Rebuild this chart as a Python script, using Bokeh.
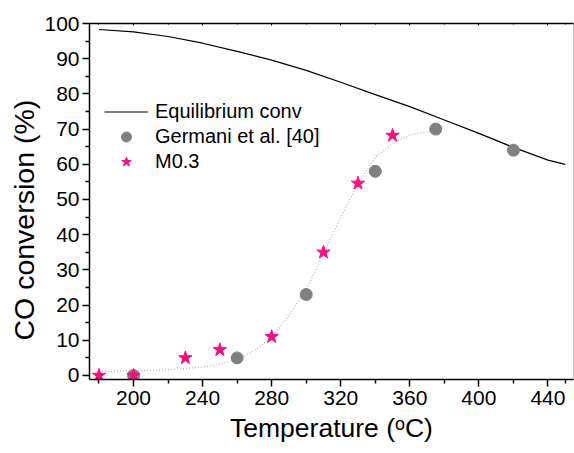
from bokeh.plotting import figure
from bokeh.models import Range1d, LinearAxis, Legend, LegendItem, FixedTicker, Title
from bokeh.embed import file_html
from bokeh.resources import INLINE

# Equilibrium conversion curve
eq_temp = [180, 200, 220, 240, 260, 280, 300, 320, 340, 360, 380, 400, 420, 440, 450]
eq_conv = [98.3, 97.6, 96.3, 94.4, 92.1, 89.6, 86.7, 83.3, 79.8, 76.4, 72.6, 68.8, 64.8, 61.2, 60.0]

# Germani et al. [40]
germ_temp = [200, 260, 300, 340, 375, 420]
germ_conv = [0, 5, 23, 58, 70, 64]

# M0.3
m03_temp = [180, 200, 230, 250, 280, 310, 330, 350]
m03_conv = [0, 0, 5, 7.3, 11, 35, 54.6, 68.2]

# Dotted fitted curve
fit_temp = [180, 200, 220, 240, 250, 260, 270, 280, 290, 300, 310, 320, 330, 340, 350, 360, 375]
fit_conv = [1.2, 1.3, 1.6, 2.4, 3.2, 4.5, 7.0, 11.0, 17.0, 24.5, 34.5, 45.0, 54.5, 62.0, 66.0, 68.3, 69.7]

x_major = [200, 240, 280, 320, 360, 400, 440]
x_minor = [180, 220, 260, 300, 340, 380, 420, 450]
y_major = [0, 10, 20, 30, 40, 50, 60, 70, 80, 90, 100]
y_minor = [5, 15, 25, 35, 45, 55, 65, 75, 85, 95]

x_title = "Temperature (ᵒC)"
y_title = "CO conversion (%)"

FONT = "Liberation Sans"

p = figure(width=574, height=453, output_backend="svg", toolbar_location=None,
           x_range=Range1d(174.5, 454.8), y_range=Range1d(-1.14, 100),
           min_border_left=89, min_border_right=1, min_border_top=23, min_border_bottom=74)
p.xgrid.visible = False
p.ygrid.visible = False
p.outline_line_color = "#c8c8c8"
p.outline_line_width = 1
p.background_fill_color = "white"
p.border_fill_color = "white"

for ax in p.xaxis + p.yaxis:
    ax.axis_line_color = "black"
    ax.axis_line_width = 1.5
    ax.major_tick_line_width = 1.5
    ax.minor_tick_line_width = 1.5
    ax.major_tick_in = 0
    ax.major_tick_out = 7
    ax.minor_tick_in = 0
    ax.minor_tick_out = 4
    ax.major_label_text_font = FONT
    ax.major_label_text_font_size = "21px"
    ax.major_label_text_color = "black"
    ax.axis_label_text_font = FONT
    ax.axis_label_text_font_size = "26.5px"
    ax.axis_label_text_font_style = "normal"
    ax.axis_label_text_color = "black"

p.xaxis.ticker = FixedTicker(ticks=x_major, minor_ticks=x_minor)
p.yaxis.ticker = FixedTicker(ticks=y_major, minor_ticks=y_minor)
p.xaxis.axis_label = x_title
p.xaxis.major_label_standoff = 4
p.yaxis.major_label_standoff = 3
p.xaxis.axis_label_standoff = 5

top = LinearAxis(ticker=FixedTicker(ticks=x_major, minor_ticks=x_minor))
top.axis_line_width = 1.5
top.major_tick_in = 2
top.major_tick_out = 0
top.minor_tick_in = 1
top.minor_tick_out = 0
top.major_label_text_font_size = "0px"
top.major_label_text_color = None
p.add_layout(top, "above")

# y-axis title as a side title so it can sit slightly below centre, as in the original
ytitle = Title(text=y_title, align="left", offset=39, standoff=4,
               text_font=FONT, text_font_size="28.5px", text_font_style="normal",
               text_color="black")
p.add_layout(ytitle, "left")

r_eq = p.line(eq_temp, eq_conv, line_color="black", line_width=1.2)
p.line(fit_temp, fit_conv, line_color="#b4b4b4", line_width=1.2, line_dash="1 2")
r_g = p.scatter(germ_temp, germ_conv, marker="circle", size=12,
                fill_color="#808080", line_color="#808080")
r_m = p.scatter(m03_temp, m03_conv, marker="star", size=14,
                fill_color="#ff0a82", line_color="#ff0a82")

legend = Legend(items=[
    LegendItem(label="Equilibrium conv", renderers=[r_eq]),
    LegendItem(label="Germani et al. [40]", renderers=[r_g]),
    LegendItem(label="M0.3", renderers=[r_m]),
], location=(15, 205))
legend.border_line_color = None
legend.background_fill_alpha = 0
legend.label_text_font = FONT
legend.label_text_font_size = "20px"
legend.label_text_color = "black"
legend.glyph_width = 44
legend.glyph_height = 25
legend.label_height = 25
legend.label_standoff = 7
legend.spacing = 0
legend.padding = 0
legend.margin = 0
p.add_layout(legend)

open("out.html", "w").write(file_html(p, INLINE))
